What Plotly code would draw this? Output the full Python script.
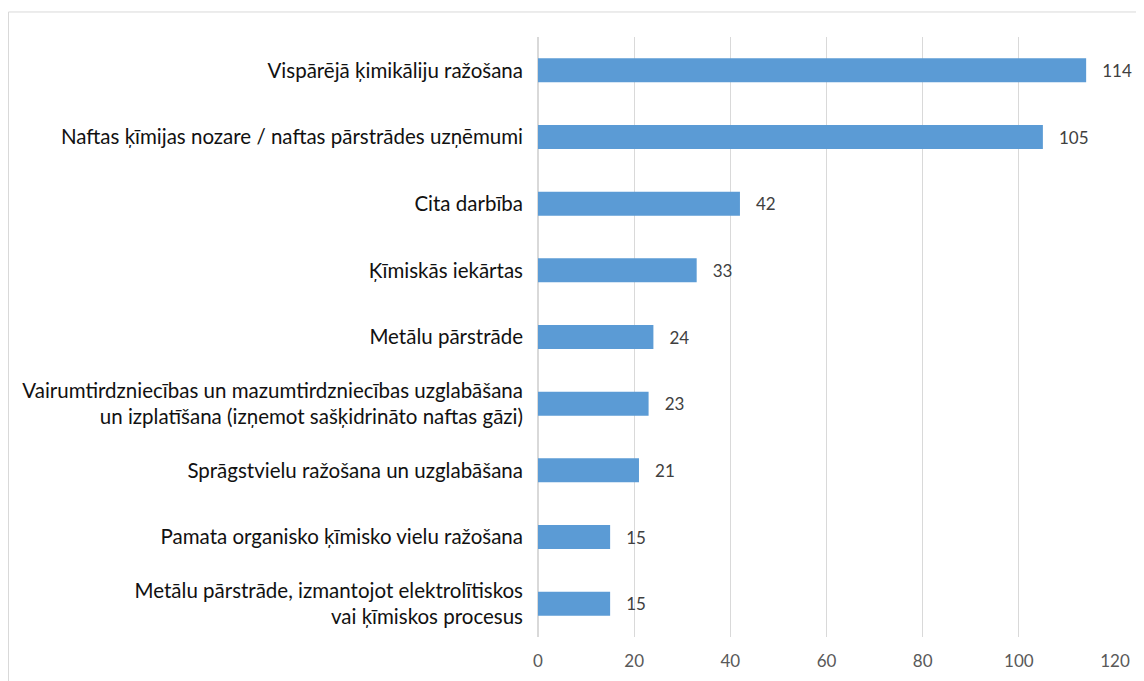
import plotly.graph_objects as go

categories = [
    "Vispārējā ķimikāliju ražošana",
    "Naftas ķīmijas nozare / naftas pārstrādes uzņēmumi",
    "Cita darbība",
    "Ķīmiskās iekārtas",
    "Metālu pārstrāde",
    "Vairumtirdzniecības un mazumtirdzniecības uzglabāšana<br>un izplatīšana (izņemot sašķidrināto naftas gāzi)",
    "Sprāgstvielu ražošana un uzglabāšana",
    "Pamata organisko ķīmisko vielu ražošana",
    "Metālu pārstrāde, izmantojot elektrolītiskos<br>vai ķīmiskos procesus",
]
values = [114, 105, 42, 33, 24, 23, 21, 15, 15]
x_ticks = [0, 20, 40, 60, 80, 100, 120]

fig = go.Figure(go.Bar(
    y=categories,
    x=values,
    orientation="h",
    marker=dict(color="#5b9bd5", line=dict(width=0)),
    width=0.36,
    text=["\u00a0\u00a0\u00a0" + str(v) for v in values],
    textposition="outside",
    textfont=dict(family="Lato", size=17, color="#404040"),
    cliponaxis=False,
))

fig.update_layout(
    width=1144, height=681,
    margin=dict(l=530, r=37, t=29, b=52, autoexpand=False),
    paper_bgcolor="white", plot_bgcolor="white",
    showlegend=False,
    font=dict(family="Lato"),
    xaxis=dict(
        range=[0, 120], tickvals=x_ticks, showgrid=True,
        gridcolor="#d9d9d9", gridwidth=1, zeroline=True, zerolinecolor="#d9d9d9",
        tickfont=dict(size=17, color="#595959"), ticks="", showline=False,
        ticklabelstandoff=12,
    ),
    yaxis=dict(
        categoryorder="array", categoryarray=categories[::-1],
        tickfont=dict(size=20.5, color="#111111"), ticks="", showline=False,
        ticklabelstandoff=14,
    ),
    shapes=[dict(type="rect", xref="paper", yref="paper",
                 x0=-0.9177, x1=1.07, y0=-0.1, y1=1.0417,
                 line=dict(color="#d9d9d9", width=1), layer="below")],
)

fig.write_html("out.html")
